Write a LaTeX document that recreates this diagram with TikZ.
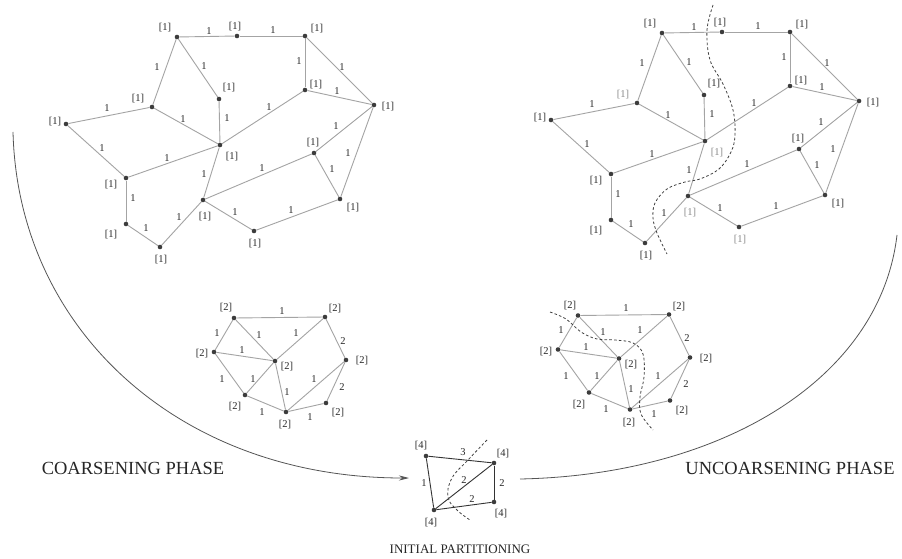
\documentclass[tikz,border=0pt]{standalone}
\usepackage{fontspec}
\setmainfont{Liberation Serif}
\usetikzlibrary{arrows.meta}
\definecolor{edgecol}{HTML}{A4A4A4}
\definecolor{vcol}{HTML}{3C3C3C}
\definecolor{tcol}{HTML}{2A2A2A}
\definecolor{softcol}{HTML}{8A8A8A}
\definecolor{arccol}{HTML}{555555}

% fine graph: 16 vertices of weight 1
\newcommand\finegraph[2]{%
  % #1: name prefix, #2: colour of the lighter vertex labels
  \node[vtx] (#1A) at (177,37) {};
  \node[vtx] (#1B) at (237,36) {};
  \node[vtx] (#1C) at (305,36) {};
  \node[vtx] (#1D) at (219,99) {};
  \node[vtx] (#1E) at (152,107) {};
  \node[vtx] (#1F) at (66,124) {};
  \node[vtx] (#1G) at (305,90) {};
  \node[vtx] (#1H) at (374,105) {};
  \node[vtx] (#1I) at (220,145) {};
  \node[vtx] (#1J) at (126,178) {};
  \node[vtx] (#1K) at (126,224) {};
  \node[vtx] (#1L) at (160,247) {};
  \node[vtx] (#1M) at (203,200) {};
  \node[vtx] (#1N) at (314,153) {};
  \node[vtx] (#1O) at (340,199) {};
  \node[vtx] (#1P) at (254,231) {};
  \foreach \u/\v in {A/B,B/C,A/E,A/D,C/G,C/H,G/H,G/I,D/I,E/I,E/F,F/J,J/I,J/K,K/L,L/M,M/I,M/N,M/P,P/O,N/O,N/H,O/H}
    \draw[edge] (#1\u) -- (#1\v);
  % vertex weights
  \node[wt] (#1lA) at (165,28) {[1]};
  \node[wt] (#1lB) at (235,27) {[1]};
  \node[wt] (#1lC) at (317,29) {[1]};
  \node[wt] (#1lD) at (229,88) {[1]};
  \node[wt,text=#2] (#1lE) at (138,99) {[1]};
  \node[wt] (#1lF) at (55,122) {[1]};
  \node[wt] (#1lG) at (316,85) {[1]};
  \node[wt] (#1lH) at (388,107) {[1]};
  \node[wt,text=#2] (#1lI) at (232,157) {[1]};
  \node[wt] (#1lJ) at (111,185) {[1]};
  \node[wt] (#1lK) at (111,235) {[1]};
  \node[wt] (#1lL) at (161,260) {[1]};
  \node[wt,text=#2] (#1lM) at (205,217) {[1]};
  \node[wt] (#1lN) at (313,143) {[1]};
  \node[wt] (#1lO) at (353,208) {[1]};
  \node[wt,text=#2] (#1lP) at (255,244) {[1]};
  % edge weights
  \foreach \n/\x/\y in {AB/209/31,BC/273/30,AE/157/67,AD/204/66,EF/107/108,
      EI/183/119,DI/227/118,CG/299/61,CH/342/67,GH/337/91,GI/269/107,
      HN/336/126,FJ/102/148,JI/167/158,JK/133/198,KL/146/228,LM/179/217,
      IM/204/174,MN/262/168,NO/332/169,HO/348/153,MP/235/212,PO/291/210}
    \node[wt] (#1w\n) at (\x,\y) {1};
}

% coarse graph: 8 vertices of weight 2
\newcommand\coarsegraph[1]{%
  \node[vtx] (#1a) at (234,318) {};
  \node[vtx] (#1b) at (325,317) {};
  \node[vtx] (#1c) at (214,352) {};
  \node[vtx] (#1d) at (275,361) {};
  \node[vtx] (#1e) at (346,360) {};
  \node[vtx] (#1f) at (245,395) {};
  \node[vtx] (#1g) at (286,412) {};
  \node[vtx] (#1h) at (326,403) {};
  \foreach \u/\v in {a/b,a/c,a/d,c/d,b/d,b/e,c/f,f/d,d/g,f/g,g/e,e/h,g/h}
    \draw[edge] (#1\u) -- (#1\v);
  \node[wt] (#1la) at (226,308) {[2]};
  \node[wt] (#1lb) at (335,309) {[2]};
  \node[wt] (#1lc) at (202,354) {[2]};
  \node[wt] (#1ld) at (287,367) {[2]};
  \node[wt] (#1le) at (362,361) {[2]};
  \node[wt] (#1lf) at (235,407) {[2]};
  \node[wt] (#1lg) at (285,425) {[2]};
  \node[wt] (#1lh) at (338,413) {[2]};
  \foreach \n/\x/\y/\t in {ab/282/311/1,ac/217/333/1,ad/259/335/1,bd/296/333/1,
      cd/242/350/1,be/343/341/2,cf/222/379/1,fd/253/379/1,dg/287/392/1,
      ge/314/379/1,eh/342/387/2,fg/262/412/1,gh/310/417/1}
    \node[wt] (#1w\n) at (\x,\y) {\t};
}

\begin{document}
\begin{tikzpicture}[x=1pt,y=-1pt,
  vtx/.style={circle,fill=vcol,inner sep=0pt,minimum size=4.6pt},
  edge/.style={draw=edgecol,line width=0.9pt},
  darkedge/.style={draw=black!80,line width=0.9pt},
  wt/.style={font=\fontsize{10.5}{10.5}\selectfont,text=tcol,inner sep=0pt},
  cut/.style={draw=black!75,line width=0.8pt,dash pattern=on 2.6pt off 2.2pt},
  phase/.style={font=\fontsize{18.5}{18.5}\selectfont,text=black!85,inner sep=0pt},
  arc/.style={draw=arccol,line width=0.8pt}]
\path[use as bounding box,fill=white] (0,0) rectangle (902,559);

% original graph
\finegraph{p}{tcol}

% projected graph with its partition
\begin{scope}[shift={(485,-4)}]
  \finegraph{q}{softcol}
\end{scope}
\draw[cut] plot[smooth,tension=0.6] coordinates {(713,5) (707,30) (710,60) (723,84)
  (733,110) (735,135) (731,152) (719,169) (700,179) (685,182) (667,189) (655,203)
  (653,218) (657,233) (667,254)};

% coarsened graph
\coarsegraph{r}
\begin{scope}[shift={(344,-2.5)}]
  \coarsegraph{s}
\end{scope}
\draw[cut] plot[smooth,tension=0.6] coordinates {(550,312) (566,319) (581,332)
  (597,339) (615,340) (633,343) (643,354) (644,377) (640,397) (641,414) (653,430)};

% coarsest graph
\node[vtx] (P) at (426,456) {};
\node[vtx] (Q) at (494,463) {};
\node[vtx] (R) at (434,510) {};
\node[vtx] (S) at (494,502) {};
\draw[darkedge] (P) -- (Q);
\draw[darkedge] (P) -- (R);
\draw[darkedge] (R) -- (Q);
\draw[darkedge] (Q) -- (S);
\draw[darkedge] (R) -- (S);
\node[wt] (lP) at (421,446) {[4]};
\node[wt] (lQ) at (503,454) {[4]};
\node[wt] (lR) at (431,523) {[4]};
\node[wt] (lS) at (501,514) {[4]};
\node[wt] (wPQ) at (463,452) {3};
\node[wt] (wPR) at (424,483) {1};
\node[wt] (wRQ) at (464,480) {2};
\node[wt] (wQS) at (502,483) {2};
\node[wt] (wRS) at (472,499) {2};
\draw[cut] plot[smooth,tension=0.7] coordinates {(487,440) (468,460) (452,478)
  (448,497) (457,510) (470,520)};

% phase arcs
\coordinate (arcL) at (13,132);
\coordinate (arcLend) at (409,478);
\coordinate (arcRstart) at (520,479);
\coordinate (arcR) at (897,235);
\draw[arc,-{Stealth[length=10pt,width=5pt]}] (arcL) .. controls (18,330) and (180,478) .. (arcLend);
\draw[arc] (arcRstart) .. controls (720,475) and (880,380) .. (arcR);

\node[phase] (coarse) at (133,468) {COARSENING PHASE};
\node[phase] (uncoarse) at (790,468) {UNCOARSENING PHASE};
\node[phase,font=\fontsize{13}{13}\selectfont] (init) at (460,549) {INITIAL PARTITIONING};
\end{tikzpicture}
\end{document}
